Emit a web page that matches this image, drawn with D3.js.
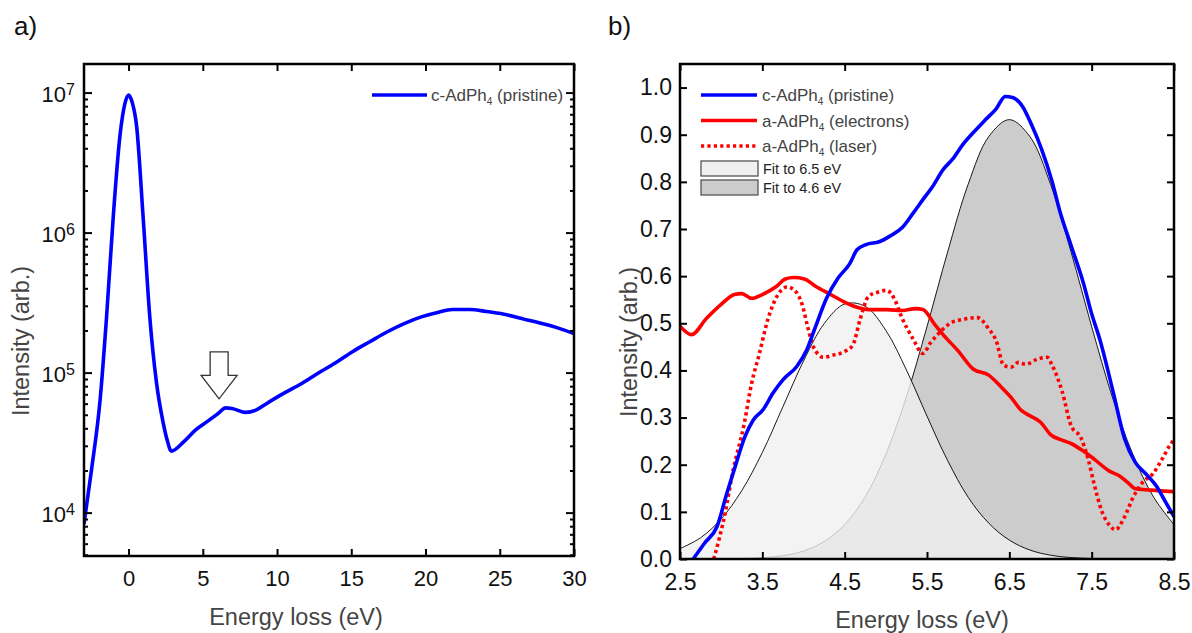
<!DOCTYPE html>
<html>
<head>
<meta charset="utf-8">
<script src="https://cdn.jsdelivr.net/npm/d3@7"></script>
<style>
  html, body { margin: 0; padding: 0; background: #fff; }
  svg { display: block; }
  text { font-family: "Liberation Sans", Arial, Helvetica, sans-serif; }
</style>
</head>
<body>
<svg id="fig" width="1192" height="633"></svg>
<script>
// ---------- Panel a: loss spectrum on a log scale ----------
const energyA = [-3.0, -2.5, -1.92, -1.48, -1.03, -0.58, -0.25, 0.0, 0.25, 0.54, 0.98, 1.43, 1.88, 2.33, 2.6, 2.88,
  3.71, 4.52, 5.34, 6.03, 6.54, 6.96, 7.89, 8.58, 9.28, 10.44, 11.6, 12.76, 13.92, 15.08, 16.24, 17.4, 18.56,
  19.72, 20.88, 21.8, 22.97, 24.13, 25.29, 26.68, 27.84, 29.0, 30.0];
const intensityA = [8.3e3, 2.0e4, 6.3e4, 2.5e5, 1.3e6, 4.9e6, 8.3e6, 9.6e6, 8.5e6, 5.8e6, 1.3e6, 2.5e5, 8.5e4, 4.4e4, 3.3e4, 2.75e4,
  3.2e4, 3.9e4, 4.5e4, 5.1e4, 5.6e4, 5.55e4, 5.2e4, 5.4e4, 6.0e4, 7.1e4, 8.3e4, 9.9e4, 1.17e5, 1.41e5, 1.66e5, 1.95e5, 2.24e5,
  2.5e5, 2.7e5, 2.82e5, 2.82e5, 2.73e5, 2.61e5, 2.4e5, 2.24e5, 2.07e5, 1.9e5];
const xTicksA = [0, 5, 10, 15, 20, 25, 30];
const yMajorA = [1e4, 1e5, 1e6, 1e7];
const arrowMark = { energy: 6.1, intensity: 6.5e4 };

// ---------- Panel b: low-loss region, linear scale ----------
const energyPristine = [2.66, 2.8, 2.95, 3.07, 3.17, 3.29, 3.39, 3.51, 3.63, 3.75, 3.92, 4.04, 4.14, 4.28, 4.42, 4.56, 4.65, 4.76,
  4.92, 5.06, 5.2, 5.33, 5.47, 5.56, 5.7, 5.81, 5.93, 6.06, 6.2, 6.34, 6.45, 6.54, 6.66, 6.77, 6.89, 7.02, 7.11, 7.25, 7.4,
  7.5, 7.6, 7.76, 7.9, 8.03, 8.15, 8.29, 8.4, 8.5];
const pristine = [0, 0.034, 0.069, 0.14, 0.196, 0.26, 0.295, 0.317, 0.352, 0.38, 0.409, 0.444, 0.49, 0.553, 0.596, 0.626, 0.656, 0.667,
  0.673, 0.686, 0.703, 0.733, 0.767, 0.788, 0.827, 0.848, 0.878, 0.904, 0.93, 0.955, 0.981, 0.979, 0.96, 0.921, 0.87, 0.80, 0.74, 0.665, 0.585,
  0.52, 0.465, 0.355, 0.255, 0.205, 0.182, 0.154, 0.12, 0.09];

const energyElectrons = [2.5, 2.64, 2.82, 3.0, 3.16, 3.25, 3.37, 3.5, 3.67, 3.78, 3.88, 4.01, 4.15, 4.33, 4.51, 4.65, 4.79, 5.01,
  5.2, 5.36, 5.45, 5.6, 5.7, 5.88, 6.06, 6.25, 6.4, 6.52, 6.64, 6.75, 6.88, 7.0, 7.14, 7.25, 7.39, 7.53, 7.71, 7.83, 7.94, 8.03,
  8.17, 8.3, 8.5];
const electrons = [0.494, 0.476, 0.51, 0.54, 0.561, 0.563, 0.553, 0.561, 0.578, 0.594, 0.597, 0.594, 0.578, 0.561, 0.544, 0.534, 0.529, 0.529,
  0.527, 0.531, 0.529, 0.496, 0.475, 0.441, 0.403, 0.39, 0.365, 0.343, 0.316, 0.304, 0.29, 0.264, 0.252, 0.245, 0.23, 0.212, 0.187, 0.177, 0.162, 0.149,
  0.147, 0.145, 0.143];

const energyLaser = [2.91, 3.05, 3.14, 3.28, 3.37, 3.46, 3.57, 3.69, 3.8, 3.89, 3.99, 4.05, 4.12, 4.24, 4.37, 4.51, 4.6, 4.69, 4.79,
  4.9, 5.01, 5.1, 5.2, 5.33, 5.45, 5.54, 5.65, 5.79, 5.93, 6.11, 6.25, 6.34, 6.43, 6.52, 6.61, 6.7, 6.84, 6.96, 7.02, 7.14, 7.25,
  7.37, 7.46, 7.53, 7.62, 7.71, 7.79, 7.89, 8.01, 8.12, 8.24, 8.35, 8.46, 8.5];
const laser = [0, 0.099, 0.184, 0.287, 0.373, 0.433, 0.51, 0.561, 0.577, 0.57, 0.536, 0.493, 0.45, 0.428, 0.433, 0.441, 0.454, 0.51, 0.557,
  0.566, 0.57, 0.553, 0.51, 0.467, 0.436, 0.458, 0.48, 0.501, 0.508, 0.512, 0.488, 0.463, 0.411, 0.407, 0.417, 0.413, 0.424, 0.428, 0.411, 0.356, 0.283,
  0.257, 0.21, 0.159, 0.103, 0.073, 0.062, 0.086, 0.133, 0.163, 0.18, 0.21, 0.244, 0.253];

const energyFit = [2.5, 2.75, 3.0, 3.25, 3.5, 3.75, 4.0, 4.25, 4.5, 4.75, 5.0, 5.25, 5.5, 5.75, 6.0, 6.25, 6.5, 6.75, 7.0, 7.25,
  7.5, 7.75, 8.0, 8.25, 8.5];
const fitLight = [0.022, 0.045, 0.085, 0.145, 0.226, 0.323, 0.420, 0.499, 0.541, 0.536, 0.485, 0.401, 0.303, 0.209, 0.131, 0.076, 0.040,
  0.019, 0.008, 0.003, 0.001, 0, 0, 0, 0];
const fitDark = [0, 0, 0.0004, 0.001, 0.003, 0.007, 0.017, 0.037, 0.073, 0.132, 0.222, 0.344, 0.493, 0.651, 0.795, 0.896, 0.932,
  0.896, 0.795, 0.651, 0.493, 0.344, 0.222, 0.132, 0.073];
const xTicksB = [2.5, 3.5, 4.5, 5.5, 6.5, 7.5, 8.5];
const yTicksB = [0, 0.1, 0.2, 0.3, 0.4, 0.5, 0.6, 0.7, 0.8, 0.9, 1.0];

const legendB = [
  { label: "c-AdPh", sub: "4", rest: " (pristine)", color: "#0000FF", dash: null },
  { label: "a-AdPh", sub: "4", rest: " (electrons)", color: "#FF0000", dash: null },
  { label: "a-AdPh", sub: "4", rest: " (laser)", color: "#FF0000", dash: "3.2,3.2" }
];
const legendFits = [
  { label: "Fit to 6.5 eV", fill: "#f0f0f0" },
  { label: "Fit to 4.6 eV", fill: "#cccccc" }
];

const BLUE = "#0000FF", RED = "#FF0000";
const svg = d3.select("#fig");
const tickColor = "#111", titleColor = "#444";

function zip(xs, ys) { return xs.map((x, i) => [x, ys[i]]); }

function styleAxis(g, size) {
  g.select(".domain").remove();
  g.selectAll(".tick line").attr("stroke", "#000").attr("stroke-width", 2);
  g.selectAll(".tick text").attr("fill", tickColor).style("font-size", size + "px");
}

// ================= Panel a =================
{
  const x = d3.scaleLinear().domain([-3, 30]).range([84, 574]);
  const y = d3.scaleLog().domain([4.9e3, 1.6e7]).range([556, 64]);
  const g = svg.append("g");

  g.append("clipPath").attr("id", "clipA").append("rect")
    .attr("x", 84).attr("y", 64).attr("width", 490).attr("height", 492);

  const line = d3.line().x(d => x(d[0])).y(d => y(d[1])).curve(d3.curveMonotoneX);
  g.append("path").datum(zip(energyA, intensityA))
    .attr("clip-path", "url(#clipA)")
    .attr("d", line).attr("fill", "none").attr("stroke", BLUE)
    .attr("stroke-width", 3.6).attr("stroke-linejoin", "round");

  // minor decade ticks
  const minors = [];
  for (let e = 3; e <= 7; e++) for (let k = 2; k <= 9; k++) {
    const v = k * Math.pow(10, e);
    if (v >= 4.9e3 && v <= 1.6e7) minors.push(v);
  }
  const minL = g.append("g").attr("transform", "translate(84,0)")
    .call(d3.axisLeft(y).tickValues(minors).tickSize(-4).tickFormat(""));
  styleAxis(minL, 20);
  const minR = g.append("g").attr("transform", "translate(574,0)")
    .call(d3.axisRight(y).tickValues(minors).tickSize(-4).tickFormat(""));
  styleAxis(minR, 20);

  // major decades, labelled as powers of ten
  const yl = g.append("g").attr("transform", "translate(84,0)")
    .call(d3.axisLeft(y).tickValues(yMajorA).tickSize(-8).tickFormat(""));
  styleAxis(yl, 22);
  yl.selectAll(".tick").each(function (d) {
    const t = d3.select(this).append("text")
      .attr("x", -9).attr("y", 2).attr("dy", "0.32em").attr("fill", tickColor)
      .attr("text-anchor", "end").style("font-size", "22px");
    t.append("tspan").text("10");
    t.append("tspan").attr("dy", "-0.45em").style("font-size", "16px").text(Math.round(Math.log10(d)));
  });
  const yr = g.append("g").attr("transform", "translate(574,0)")
    .call(d3.axisRight(y).tickValues(yMajorA).tickSize(-8).tickFormat(""));
  styleAxis(yr, 20);

  const xb = g.append("g").attr("transform", "translate(0,556)")
    .call(d3.axisBottom(x).tickValues(xTicksA).tickSize(-7).tickPadding(14));
  styleAxis(xb, 22);
  const xt = g.append("g").attr("transform", "translate(0,64)")
    .call(d3.axisTop(x).tickValues(xTicksA).tickSize(-7).tickFormat(""));
  styleAxis(xt, 20);

  g.append("rect").attr("x", 84).attr("y", 64).attr("width", 490).attr("height", 492)
    .attr("fill", "none").attr("stroke", "#000").attr("stroke-width", 2.5);

  // hollow arrow pointing at the shoulder near 6 eV
  const ax = x(arrowMark.energy), ay = y(arrowMark.intensity);
  const arrow = [[ax, ay], [ax - 18, ay - 23.5], [ax - 9, ay - 23.5], [ax - 9, ay - 47], [ax + 9, ay - 47],
    [ax + 9, ay - 23.5], [ax + 18, ay - 23.5]];
  g.append("path").attr("d", "M" + arrow.join("L") + "Z")
    .attr("fill", "#fff").attr("stroke", "#333").attr("stroke-width", 1.3);

  // legend
  g.append("line").attr("x1", 372).attr("x2", 427).attr("y1", 95).attr("y2", 95)
    .attr("stroke", BLUE).attr("stroke-width", 3.6);
  const lt = g.append("text").attr("x", 431).attr("y", 101).attr("fill", titleColor).style("font-size", "17px");
  lt.append("tspan").text("c-AdPh");
  lt.append("tspan").attr("dy", 4).style("font-size", "10px").text("4");
  lt.append("tspan").attr("dy", -4).text(" (pristine)");

  g.append("text").attr("x", 296).attr("y", 625).attr("text-anchor", "middle")
    .attr("fill", titleColor).style("font-size", "23.5px").text("Energy loss (eV)");
  g.append("text").attr("transform", "translate(29,341) rotate(-90)").attr("text-anchor", "middle")
    .attr("fill", titleColor).style("font-size", "23.5px").text("Intensity (arb.)");
  g.append("text").attr("x", 14).attr("y", 35).attr("fill", "#111").style("font-size", "26px").text("a)");
}

// ================= Panel b =================
{
  const x = d3.scaleLinear().domain([2.5, 8.5]).range([680, 1174]);
  const y = d3.scaleLinear().domain([0, 1.05]).range([559, 64]);
  const g = svg.append("g");

  g.append("clipPath").attr("id", "clipB").append("rect")
    .attr("x", 680).attr("y", 64).attr("width", 494).attr("height", 495);
  const plot = g.append("g").attr("clip-path", "url(#clipB)");

  const area = d3.area().x(d => x(d[0])).y0(y(0)).y1(d => y(d[1])).curve(d3.curveCatmullRom);
  const edge = d3.line().x(d => x(d[0])).y(d => y(d[1])).curve(d3.curveCatmullRom);

  plot.append("path").datum(zip(energyFit, fitDark)).attr("d", area).attr("fill", "#cccccc");
  plot.append("path").datum(zip(energyFit, fitDark)).attr("d", edge)
    .attr("fill", "none").attr("stroke", "#000").attr("stroke-width", 0.9);
  plot.append("path").datum(zip(energyFit, fitLight)).attr("d", area)
    .attr("fill", "#f0f0f0").attr("fill-opacity", 0.8);
  plot.append("path").datum(zip(energyFit, fitLight)).attr("d", edge)
    .attr("fill", "none").attr("stroke", "#000").attr("stroke-width", 0.9);

  const line = d3.line().x(d => x(d[0])).y(d => y(d[1])).curve(d3.curveMonotoneX);
  plot.append("path").datum(zip(energyLaser, laser)).attr("d", line)
    .attr("fill", "none").attr("stroke", RED).attr("stroke-width", 3.6).attr("stroke-dasharray", "3.2,3.2");
  plot.append("path").datum(zip(energyElectrons, electrons)).attr("d", line)
    .attr("fill", "none").attr("stroke", RED).attr("stroke-width", 3.6).attr("stroke-linejoin", "round");
  plot.append("path").datum(zip(energyPristine, pristine)).attr("d", line)
    .attr("fill", "none").attr("stroke", BLUE).attr("stroke-width", 3.6).attr("stroke-linejoin", "round");

  const yl = g.append("g").attr("transform", "translate(680,0)")
    .call(d3.axisLeft(y).tickValues(yTicksB).tickSize(-7).tickPadding(8).tickFormat(d3.format(".1f")));
  styleAxis(yl, 23);
  const yr = g.append("g").attr("transform", "translate(1174,0)")
    .call(d3.axisRight(y).tickValues(yTicksB).tickSize(-7).tickFormat(""));
  styleAxis(yr, 23);
  const xb = g.append("g").attr("transform", "translate(0,559)")
    .call(d3.axisBottom(x).tickValues(xTicksB).tickSize(-7).tickPadding(15).tickFormat(d3.format(".1f")));
  styleAxis(xb, 23);
  const xt = g.append("g").attr("transform", "translate(0,64)")
    .call(d3.axisTop(x).tickValues(xTicksB).tickSize(-7).tickFormat(""));
  styleAxis(xt, 23);

  g.append("rect").attr("x", 680).attr("y", 64).attr("width", 494).attr("height", 495)
    .attr("fill", "none").attr("stroke", "#000").attr("stroke-width", 2.5);

  // legend
  const rowsY = [95, 120.5, 146];
  legendB.forEach((d, i) => {
    const ln = g.append("line").attr("x1", 701).attr("x2", 757).attr("y1", rowsY[i]).attr("y2", rowsY[i])
      .attr("stroke", d.color).attr("stroke-width", 3.6);
    if (d.dash) ln.attr("stroke-dasharray", d.dash);
    const t = g.append("text").attr("x", 762).attr("y", rowsY[i] + 6).attr("fill", titleColor).style("font-size", "17px");
    t.append("tspan").text(d.label);
    t.append("tspan").attr("dy", 4).style("font-size", "10px").text(d.sub);
    t.append("tspan").attr("dy", -4).text(d.rest);
  });
  const boxY = [161, 180];
  legendFits.forEach((d, i) => {
    g.append("rect").attr("x", 701).attr("y", boxY[i]).attr("width", 57).attr("height", 15)
      .attr("fill", d.fill).attr("stroke", "#555").attr("stroke-width", 1.3);
    g.append("text").attr("x", 763).attr("y", boxY[i] + 12.5).attr("fill", "#222")
      .style("font-size", "14.5px").text(d.label);
  });

  g.append("text").attr("x", 922).attr("y", 628).attr("text-anchor", "middle")
    .attr("fill", titleColor).style("font-size", "23.5px").text("Energy loss (eV)");
  g.append("text").attr("transform", "translate(637,342) rotate(-90)").attr("text-anchor", "middle")
    .attr("fill", titleColor).style("font-size", "23.5px").text("Intensity (arb.)");
  g.append("text").attr("x", 608).attr("y", 35).attr("fill", "#111").style("font-size", "26px").text("b)");
}
</script>
</body>
</html>
